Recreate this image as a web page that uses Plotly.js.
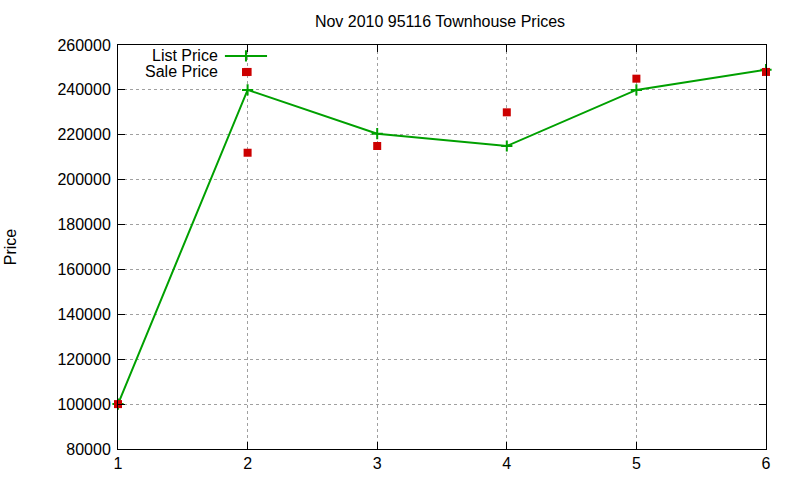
<!DOCTYPE html>
<html>
<head>
<meta charset="utf-8">
<script src="https://cdn.plot.ly/plotly-3.0.1.min.js"></script>
<style>html,body{margin:0;padding:0;background:#fff}#chart{width:800px;height:480px}</style>
</head>
<body>
<div id="chart"></div>
<script>
const listX = [1, 2, 3, 4, 5, 6];
const listPrice = [100000, 240000, 220500, 215000, 240000, 249000];
const saleX = [1, 2, 2, 3, 4, 5, 6];
const salePrice = [100000, 248000, 212000, 215000, 230000, 245000, 248000];
const yTicks = [80000, 100000, 120000, 140000, 160000, 180000, 200000, 220000, 240000, 260000];

const FONT = 'Liberation Sans, Arial, sans-serif';
const GREEN = '#00a000';
const RED = '#cc0000';
const FS = 16;

const traces = [
  {x: listX, y: listPrice, type: 'scatter', mode: 'lines+markers', name: 'List Price',
   line: {color: GREEN, width: 2},
   marker: {symbol: 'cross-thin', size: 8, line: {color: GREEN, width: 2}, color: GREEN},
   cliponaxis: false, showlegend: false},
  {x: saleX, y: salePrice, type: 'scatter', mode: 'markers', name: 'Sale Price',
   marker: {symbol: 'square', size: 8, color: RED},
   cliponaxis: false, showlegend: false},
  // legend samples on an overlay axis in [0,1]
  {x: [0.165, 0.23], y: [0.973, 0.973], xaxis: 'x2', yaxis: 'y2', type: 'scatter', mode: 'lines',
   line: {color: GREEN, width: 2}, showlegend: false, hoverinfo: 'skip'},
  {x: [0.1975], y: [0.973], xaxis: 'x2', yaxis: 'y2', type: 'scatter', mode: 'markers',
   marker: {symbol: 'cross-thin', size: 8, line: {color: GREEN, width: 2}}, showlegend: false, hoverinfo: 'skip'},
  {x: [0.1975], y: [0.933], xaxis: 'x2', yaxis: 'y2', type: 'scatter', mode: 'markers',
   marker: {symbol: 'square', size: 8, color: RED}, showlegend: false, hoverinfo: 'skip'}
];

const layout = {
  width: 800, height: 480,
  margin: {l: 118, r: 34, t: 45, b: 31},
  paper_bgcolor: '#fff', plot_bgcolor: '#fff',
  font: {family: FONT, size: FS, color: '#000'},
  title: {text: 'Nov 2010 95116 Townhouse Prices', x: 0.55, xanchor: 'center', y: 0.955, yanchor: 'middle',
          font: {family: FONT, size: FS, color: '#000'}},
  xaxis: {range: [1, 6], tickmode: 'array', tickvals: listX, ticktext: listX.map(String),
          showgrid: true, gridcolor: '#a0a0a0', griddash: '3px,3px', gridwidth: 1,
          zeroline: false, showline: true, linecolor: '#000', linewidth: 1, mirror: 'allticks',
          ticks: 'inside', ticklen: 7, tickcolor: '#000', tickfont: {size: FS}},
  yaxis: {range: [80000, 260000], tickmode: 'array', tickvals: yTicks, ticktext: yTicks.map(String),
          showgrid: true, gridcolor: '#a0a0a0', griddash: '3px,3px', gridwidth: 1,
          zeroline: false, showline: true, linecolor: '#000', linewidth: 1, mirror: 'allticks',
          ticks: 'inside', ticklen: 7, tickcolor: '#000', tickfont: {size: FS}, ticklabelstandoff: 3,
          title: {text: 'Price', standoff: 36, font: {size: FS}}},
  xaxis2: {range: [0, 1], overlaying: 'x', visible: false, fixedrange: true},
  yaxis2: {range: [0, 1], overlaying: 'y', visible: false, fixedrange: true},
  showlegend: false,
  annotations: [
    {text: 'List Price', xref: 'paper', yref: 'paper', x: 0.158, y: 0.973, xanchor: 'right', yanchor: 'middle',
     showarrow: false, font: {family: FONT, size: FS, color: '#000'}},
    {text: 'Sale Price', xref: 'paper', yref: 'paper', x: 0.158, y: 0.935, xanchor: 'right', yanchor: 'middle',
     showarrow: false, font: {family: FONT, size: FS, color: '#000'}}
  ]
};

Plotly.newPlot('chart', traces, layout, {displayModeBar: false, staticPlot: true});
</script>
</body>
</html>
